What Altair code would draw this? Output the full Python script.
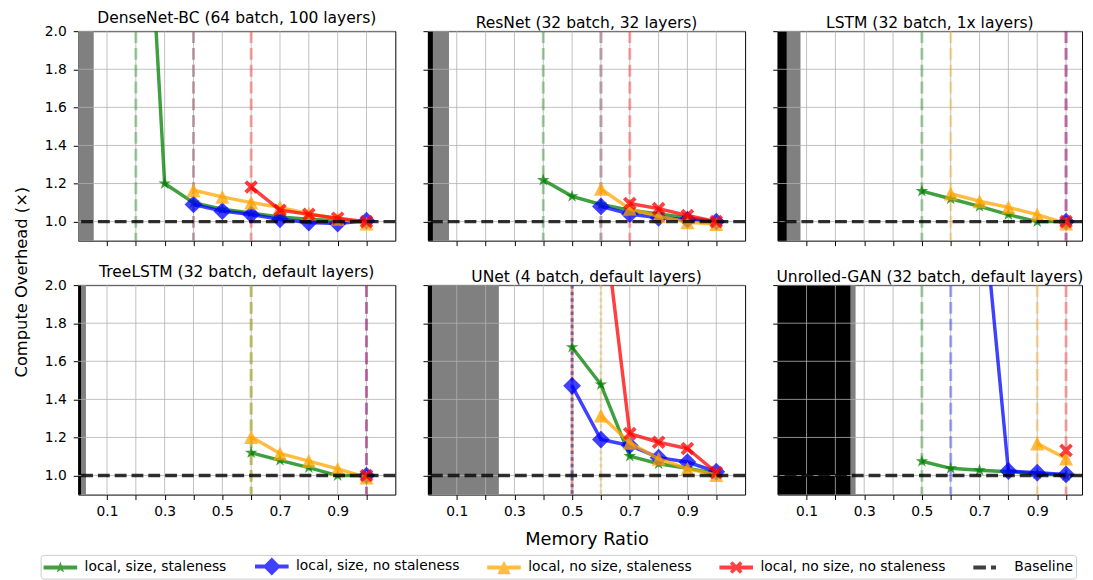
import altair as alt
import pandas as pd

# ---------------- data ----------------
RATIOS = [0.1, 0.2, 0.3, 0.4, 0.5, 0.6, 0.7, 0.8, 0.9, 1.0]
X_LABELED = [0.1, 0.3, 0.5, 0.7, 0.9]
Y_TICKS = [1.0, 1.2, 1.4, 1.6, 1.8, 2.0]
BASELINE = 1.0

SERIES = ["local, size, staleness", "local, size, no staleness",
          "local, no size, staleness", "local, no size, no staleness"]
LEGEND_LABELS = SERIES + ["Baseline"]
SERIES_COLORS = ["green", "blue", "orange", "red"]
BASELINE_COLOR = "black"

TITLES = ["DenseNet-BC (64 batch, 100 layers)", "ResNet (32 batch, 32 layers)",
          "LSTM (32 batch, 1x layers)", "TreeLSTM (32 batch, default layers)",
          "UNet (4 batch, default layers)", "Unrolled-GAN (32 batch, default layers)"]
GRAY_END = [0.054, 0.073, 0.079, 0.027, 0.246, 0.270]
BLACK_END = [0.0, 0.017, 0.031, 0.010, 0.014, 0.252]
# style of each series' minimum-ratio marker line, per panel
MIN_LINE_STYLE = [
    ["dashed", "dashed", "dashed", "dashed"],
    ["dashed", "dashed", "dashed", "dashed"],
    ["dashed", "dashed", "dashed", "dashed"],
    ["dashed", "dashed", "dashed", "dashed"],
    ["dotted", "dotted", "dotted", "solid"],
    ["dashed", "dashed", "dashed", "dashed"],
]

# values per ratio 0.1 ... 1.0 (None = not feasible)
densenet_green = [None, 3.90, 1.20, 1.10, 1.065, 1.045, 1.025, 1.012, 1.005, 1.00]
densenet_blue = [None, None, None, 1.09, 1.055, 1.037, 1.012, 0.995, 0.990, 1.005]
densenet_orange = [None, None, None, 1.165, 1.13, 1.10, 1.075, 1.042, 1.015, 0.99]
densenet_red = [None, None, None, None, None, 1.182, 1.06, 1.038, 1.018, 1.00]

resnet_green = [None, None, None, 1.218, 1.133, 1.09, 1.06, 1.04, 1.02, 1.00]
resnet_blue = [None, None, None, None, None, 1.08, 1.04, 1.02, 1.01, 1.00]
resnet_orange = [None, None, None, None, None, 1.172, 1.067, 1.028, 0.997, 0.988]
resnet_red = [None, None, None, None, None, None, 1.095, 1.068, 1.032, 1.00]

lstm_green = [None, None, None, None, 1.16, 1.12, 1.08, 1.037, 1.00, 1.00]
lstm_blue = [None, None, None, None, None, None, None, None, None, 1.00]
lstm_orange = [None, None, None, None, None, 1.147, 1.107, 1.075, 1.037, 0.99]
lstm_red = [None, None, None, None, None, None, None, None, None, 1.00]

treelstm_green = [None, None, None, None, None, 1.12, 1.08, 1.042, 1.00, 1.00]
treelstm_blue = [None, None, None, None, None, None, None, None, None, 1.00]
treelstm_orange = [None, None, None, None, None, 1.203, 1.116, 1.076, 1.035, 0.99]
treelstm_red = [None, None, None, None, None, None, None, None, None, 1.00]

unet_green = [None, None, None, None, 1.674, 1.478, 1.102, 1.062, 1.038, 1.01]
unet_blue = [None, None, None, None, 1.471, 1.189, 1.158, 1.094, 1.071, 1.02]
unet_orange = [None, None, None, None, None, 1.315, 1.172, 1.088, 1.036, 1.003]
unet_red = [None, None, None, None, 3.50, 2.48, 1.22, 1.175, 1.142, 1.016]

gan_green = [None, None, None, None, 1.075, 1.038, 1.028, 1.02, 1.01, 1.00]
gan_blue = [None, None, None, None, None, 3.50, 2.62, 1.024, 1.015, 1.006]
gan_orange = [None, None, None, None, None, None, None, None, 1.168, 1.09]
gan_red = [None, None, None, None, None, None, None, None, None, 1.132]

PANELS = [
    [densenet_green, densenet_blue, densenet_orange, densenet_red],
    [resnet_green, resnet_blue, resnet_orange, resnet_red],
    [lstm_green, lstm_blue, lstm_orange, lstm_red],
    [treelstm_green, treelstm_blue, treelstm_orange, treelstm_red],
    [unet_green, unet_blue, unet_orange, unet_red],
    [gan_green, gan_blue, gan_orange, gan_red],
]

# ---------------- style ----------------
FONT = "DejaVu Sans"
W = 321
W_LAST = 308
H = 212
PX_PER_UNIT = W / 1.1
DASHES = {"dashed": [12, 5], "dotted": [3.5, 3.2], "solid": [1, 0]}

STAR = ("M0,-1L0.225,-0.309L0.951,-0.309L0.363,0.118L0.588,0.809L0,0.382"
        "L-0.588,0.809L-0.363,0.118L-0.951,-0.309L-0.225,-0.309Z")
DIAMOND = "M-1,0L0,-1L1,0L0,1Z"
TRIANGLE = "M0,-1L1,1L-1,1Z"
XMARK = ("M-0.6,-1L0,-0.4L0.6,-1L1,-0.6L0.4,0L1,0.6L0.6,1L0,0.4L-0.6,1"
         "L-1,0.6L-0.4,0L-1,-0.6Z")
MARKERS = [STAR, DIAMOND, TRIANGLE, XMARK]
MARKER_SIZES = [180, 324, 200, 190]

# legend handles: a line through the marker, drawn 34px wide (path spans -2..2)
BAR = "M-2,-0.235L2,-0.235L2,0.235L-2,0.235Z"
LEGEND_PATHS = [
    BAR + "M0,-0.75L0.169,-0.232L0.713,-0.232L0.272,0.089L0.441,0.607L0,0.287"
          "L-0.441,0.607L-0.272,0.089L-0.713,-0.232L-0.169,-0.232Z",
    BAR + "M-1.06,0L0,-1.06L1.06,0L0,1.06Z",
    BAR + "M0,-0.8L0.8,0.8L-0.8,0.8Z",
    BAR + "M-0.45,-0.75L0,-0.3L0.45,-0.75L0.75,-0.45L0.3,0L0.75,0.45L0.45,0.75"
          "L0,0.3L-0.45,0.75L-0.75,0.45L-0.3,0L-0.75,-0.45Z",
    "M-2,-0.235L-0.5,-0.235L-0.5,0.235L-2,0.235Z M0.1,-0.235L0.7,-0.235L0.7,0.235L0.1,0.235Z",
]

LABEL_EXPR = "(" + " || ".join(f"datum.label == '{v:.1f}'" for v in X_LABELED) + ") ? datum.label : ''"


def series_df(vals):
    xs = [r for r, v in zip(RATIOS, vals) if v is not None]
    ys = [v for v in vals if v is not None]
    return pd.DataFrame({"x": xs, "y": ys})


def make_panel(i):
    row, col = divmod(i, 3)
    width = W if col < 2 else W_LAST
    xs = alt.Scale(domain=[0, width / PX_PER_UNIT], nice=False, zero=False)
    ys = alt.Scale(domain=[0.9, 2.0], nice=False, zero=False)
    xaxis = alt.Axis(values=RATIOS, format=".1f", labelExpr=LABEL_EXPR, tickSize=5,
                     tickColor="black", tickWidth=1, domain=False, grid=False,
                     labels=(row == 1), labelFontSize=14, labelColor="black",
                     labelPadding=5, labelFont=FONT, titleFontSize=18,
                     titleFontWeight="normal", titleColor="black", titleFont=FONT,
                     titlePadding=13)
    yaxis = alt.Axis(values=Y_TICKS, format=".1f", tickSize=5, tickColor="black",
                     tickWidth=1, domain=False, grid=False, labels=(col == 0),
                     labelFontSize=14, labelColor="black", labelPadding=7, labelFont=FONT)
    xtitle = "Memory Ratio" if (row == 1 and col == 1) else None

    def X(field):
        return alt.X(field, type="quantitative", scale=xs, axis=xaxis, title=xtitle)

    def Y(field):
        return alt.Y(field, type="quantitative", scale=ys, axis=yaxis, title=None)

    layers = []
    layers.append(alt.Chart(pd.DataFrame({"x0": [0.0], "x1": [GRAY_END[i]]}))
                  .mark_rect(color="#808080").encode(x=X("x0"), x2="x1"))
    if BLACK_END[i] > 0:
        layers.append(alt.Chart(pd.DataFrame({"x0": [0.0], "x1": [BLACK_END[i]]}))
                      .mark_rect(color="black").encode(x=X("x0"), x2="x1"))
    layers.append(alt.Chart(pd.DataFrame({"x": RATIOS}))
                  .mark_rule(color="#b0b0b0", strokeWidth=1, opacity=0.8).encode(x=X("x")))
    layers.append(alt.Chart(pd.DataFrame({"y": Y_TICKS}))
                  .mark_rule(color="#b0b0b0", strokeWidth=1, opacity=0.8).encode(y=Y("y")))

    # solid lines first so dotted ones sit on top
    order = sorted(range(4), key=lambda k: MIN_LINE_STYLE[i][k] != "solid")
    for k in order:
        df = series_df(PANELS[i][k])
        style = MIN_LINE_STYLE[i][k]
        mark_kw = dict(color=SERIES_COLORS[k], strokeWidth=3, opacity=0.32)
        if style != "solid":
            mark_kw["strokeDash"] = DASHES[style]
        layers.append(alt.Chart(pd.DataFrame({"x": [df["x"].min()]}))
                      .mark_rule(**mark_kw).encode(x=X("x")))

    for vals, color, shape, size in zip(PANELS[i], SERIES_COLORS, MARKERS, MARKER_SIZES):
        df = series_df(vals)
        base = alt.Chart(df)
        layers.append(base.mark_line(color=color, strokeWidth=3.5, opacity=0.75, clip=True)
                      .encode(x=X("x"), y=Y("y")))
        layers.append(base.mark_point(shape=shape, size=size, filled=True, color=color,
                                      opacity=0.75, strokeWidth=0, clip=True)
                      .encode(x=X("x"), y=Y("y")))

    layers.append(alt.Chart(pd.DataFrame({"y": [BASELINE]}))
                  .mark_rule(color=BASELINE_COLOR, strokeWidth=3.5, opacity=0.8, strokeDash=[12, 5])
                  .encode(y=Y("y")))

    if i == 0:
        leg = pd.DataFrame({"name": LEGEND_LABELS, "x": [-1.0] * 5, "y": [1.0] * 5})
        legend = alt.Legend(title=None, orient="none", legendX=32, legendY=530,
                            direction="horizontal", symbolSize=289, symbolOffset=8.5,
                            symbolStrokeWidth=0, symbolOpacity=0.75, labelFontSize=14,
                            labelFont=FONT, labelColor="black", labelLimit=400,
                            labelOffset=16, columnPadding=28, padding=3,
                            strokeColor="#cccccc", cornerRadius=3, fillColor="white")
        layers.append(alt.Chart(leg).mark_point(filled=True, clip=True, opacity=0.75, strokeWidth=0)
                      .encode(x=X("x"), y=Y("y"),
                              color=alt.Color("name:N", scale=alt.Scale(domain=LEGEND_LABELS,
                                              range=SERIES_COLORS + [BASELINE_COLOR]), legend=legend),
                              shape=alt.Shape("name:N", scale=alt.Scale(domain=LEGEND_LABELS,
                                              range=LEGEND_PATHS), legend=legend)))

    return alt.layer(*layers).properties(
        width=width, height=H,
        title=alt.TitleParams(TITLES[i], fontSize=15.7, fontWeight="normal", offset=-2,
                              color="black", font=FONT))


panels = [make_panel(i) for i in range(6)]
row1 = alt.hconcat(*panels[:3], spacing=24)
row2 = alt.hconcat(*panels[3:], spacing=24)
grid = alt.vconcat(row1, row2, spacing=16)

ytitle = alt.Chart(pd.DataFrame({"t": ["Compute Overhead (×)"]})).mark_text(
    angle=270, fontSize=16.5, font=FONT, color="black", align="center", baseline="middle"
).encode(text="t:N", x=alt.value(13), y=alt.value(254)).properties(
    width=26, height=400, view=alt.ViewBackground(stroke="transparent"))

chart = alt.hconcat(ytitle, grid, spacing=8).properties(
    padding={"left": 0, "top": -3, "right": 0, "bottom": 0}
).configure(font=FONT).configure_view(stroke="black", strokeWidth=1)

chart.save("out.html", embed_options={"renderer": "svg", "actions": False})
